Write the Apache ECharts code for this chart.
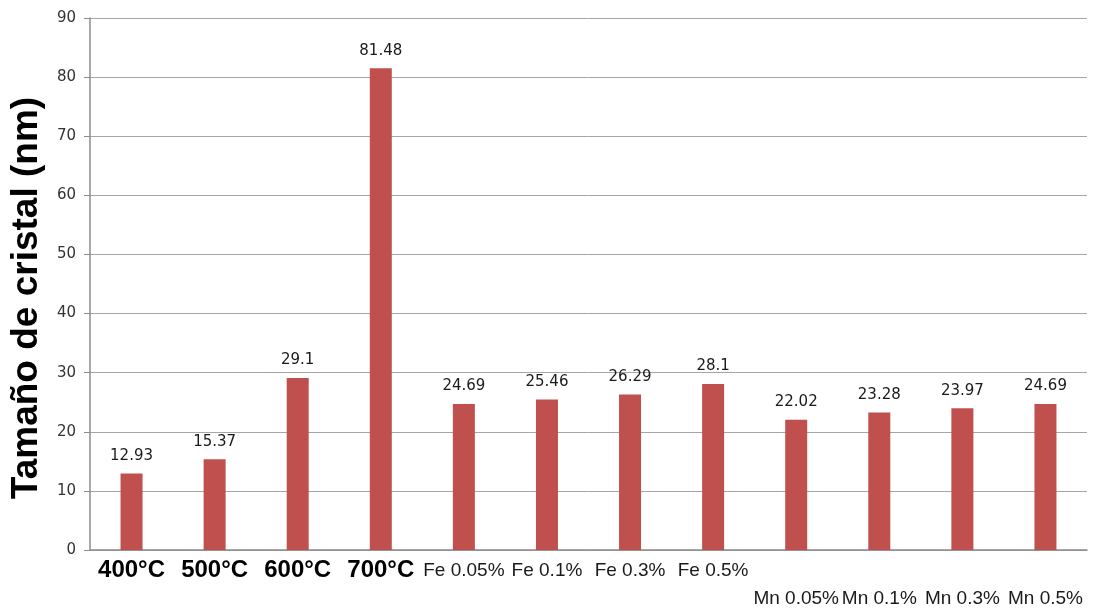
<!DOCTYPE html>
<html>
<head>
<meta charset="utf-8">
<script src="https://cdn.jsdelivr.net/npm/echarts@6/dist/echarts.min.js"></script>
<style>html,body{margin:0;padding:0;background:#fff}#c{width:1098px;height:611px}</style>
</head>
<body>
<div id="c"></div>
<script>
const categories = ['400°C','500°C','600°C','700°C','Fe 0.05%','Fe 0.1%','Fe 0.3%','Fe 0.5%','Mn 0.05%','Mn 0.1%','Mn 0.3%','Mn 0.5%'];
const values = [12.93, 15.37, 29.1, 81.48, 24.69, 25.46, 26.29, 28.1, 22.02, 23.28, 23.97, 24.69];
const yTitle = 'Tamaño de cristal (nm)';

const chart = echarts.init(document.getElementById('c'));
chart.setOption({
  animation: false,
  grid: {left: 90, right: 11, top: 18, bottom: 61, containLabel: false},
  xAxis: {
    type: 'category',
    data: categories,
    axisLine: {lineStyle: {color: '#8c8c8c', width: 1.5}},
    axisTick: {show: false},
    axisLabel: {
      interval: 0,
      margin: 8,
      formatter: function (v) {
        if (v.indexOf('°C') >= 0) return '{b|' + v + '}';
        if (v.indexOf('Mn') === 0) return '{m|' + v + '}';
        return '{f|' + v + '}';
      },
      rich: {
        b: {fontFamily: 'Liberation Sans, Arial', fontWeight: 'bold', fontSize: 24, color: '#000'},
        f: {fontFamily: 'Liberation Sans, Arial', fontSize: 19, color: '#1a1a1a', padding: [3, 0, 0, 0]},
        m: {fontFamily: 'Liberation Sans, Arial', fontSize: 19, color: '#1a1a1a', padding: [31, 0, 0, 0]}
      }
    }
  },
  yAxis: {
    type: 'value',
    min: 0, max: 90, interval: 10,
    name: yTitle,
    nameLocation: 'middle',
    nameRotate: 90,
    nameGap: 45,
    nameTextStyle: {fontFamily: 'Liberation Sans, Arial', fontWeight: 'bold', fontSize: 37, color: '#000', padding: [0, 28, 0, 0]},
    axisLine: {show: true, lineStyle: {color: '#8c8c8c', width: 1.5}},
    axisTick: {show: true, length: 6, lineStyle: {color: '#8c8c8c'}},
    axisLabel: {fontFamily: 'DejaVu Sans', fontSize: 15, color: '#333', margin: 14},
    splitLine: {lineStyle: {color: '#a6a6a6', width: 1}}
  },
  series: [{
    type: 'bar',
    data: values,
    barWidth: 22,
    itemStyle: {color: '#C0504D'},
    label: {show: true, position: 'top', distance: 10, fontFamily: 'DejaVu Sans', fontSize: 15, color: '#1a1a1a'}
  }]
});
</script>
</body>
</html>
